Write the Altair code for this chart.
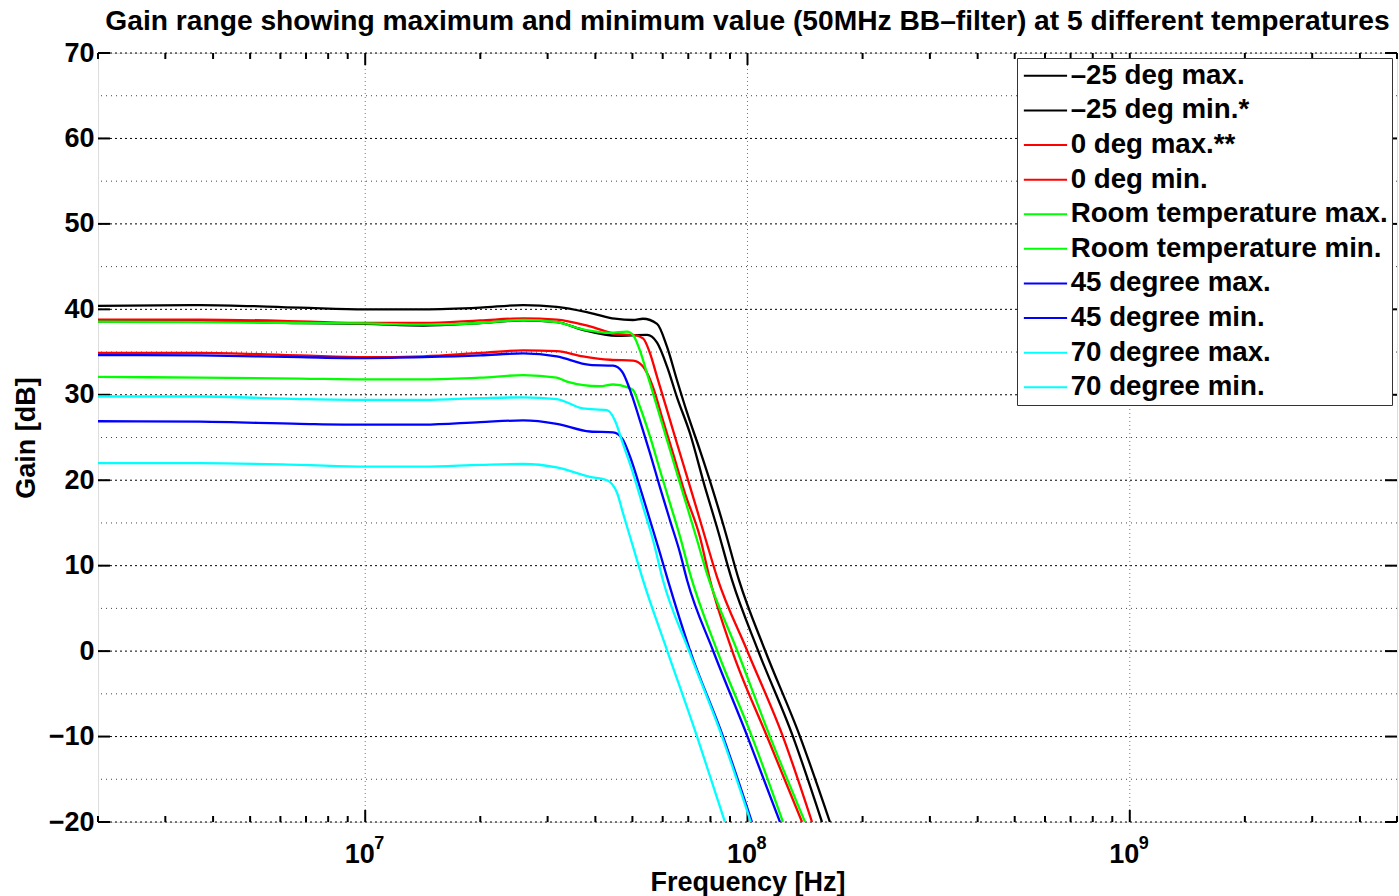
import altair as alt
import pandas as pd

TITLE = "Gain range showing maximum and minimum value (50MHz BB\u2013filter) at 5 different temperatures"
X_TITLE = "Frequency [Hz]"
Y_TITLE = "Gain [dB]"

series_names = ["\u201325 deg max.", "\u201325 deg min.*", "0 deg max.**", "0 deg min.",
                "Room temperature max.", "Room temperature min.",
                "45 degree max.", "45 degree min.", "70 degree max.", "70 degree min."]
series_colors = ["#000000", "#000000", "#ff0000", "#ff0000", "#00ff00", "#00ff00",
                 "#0000ff", "#0000ff", "#00ffff", "#00ffff"]

# frequencies in MHz, gains in dB
m25_max_f = [2, 3.7, 6.75, 10, 14.2, 20, 25.9, 31.7, 38.7, 45.0, 50.2, 53.3, 58.0, 61.6, 65.4, 69.5, 75.1, 80.7, 86.8, 95.0, 111.1, 137.2, 164.3]
m25_max_g = [40.4, 40.5, 40.2, 40.0, 40.0, 40.2, 40.5, 40.3, 39.6, 38.9, 38.75, 38.9, 38.3, 35.6, 31.7, 27.9, 23.5, 19.2, 14.5, 8.3, 0.1, -10.0, -20.0]

m25_min_f = [2, 3.7, 6.75, 10, 14.2, 20, 25.9, 31.7, 37.1, 45.6, 54.6, 58.0, 61.6, 65.4, 70.7, 77.4, 83.2, 91.1, 106.5, 131.5, 156.6]
m25_min_g = [38.6, 38.6, 38.4, 38.3, 38.1, 38.4, 38.7, 38.5, 37.6, 36.9, 37.0, 36.1, 33.3, 29.7, 25.5, 19.2, 14.5, 8.3, 0.1, -10.0, -20.0]

z_max_f = [2, 3.7, 6.75, 10, 14.2, 20, 25.9, 31.7, 38.7, 45.6, 50.2, 53.3, 55.6, 58.0, 61.6, 65.4, 69.5, 73.8, 78.3, 83.2, 99.7, 123.8, 147.5]
z_max_g = [38.8, 38.8, 38.6, 38.4, 38.4, 38.7, 38.95, 38.8, 38.0, 37.1, 37.0, 36.6, 34.85, 32.1, 28.2, 24.3, 20.4, 16.5, 12.6, 8.7, 0.1, -10.0, -20.0]

z_min_f = [2, 3.7, 6.75, 10, 14.2, 20, 25.9, 31.7, 37.1, 43.7, 50.2, 53.3, 56.6, 60.1, 63.8, 68.6, 75.1, 79.8, 91.1, 112.5, 138.9]
z_min_g = [34.9, 34.9, 34.6, 34.4, 34.5, 34.9, 35.2, 35.1, 34.5, 34.1, 34.0, 33.3, 30.9, 27.0, 23.2, 18.5, 13.35, 8.3, 0.1, -10.0, -20.0]

room_max_f = [2, 3.7, 6.75, 10, 14.2, 20, 25.9, 31.7, 37.1, 43.7, 48.4, 50.2, 52.3, 54.6, 58.0, 61.6, 65.4, 69.5, 73.8, 78.3, 93.9, 114.5, 141.4]
room_max_g = [38.55, 38.5, 38.4, 38.35, 38.2, 38.4, 38.75, 38.5, 37.65, 37.25, 37.4, 37.0, 35.2, 32.5, 28.6, 24.7, 20.8, 16.9, 13.0, 9.1, 0.1, -10.0, -20.0]

room_min_f = [2, 3.7, 6.75, 10, 14.2, 20, 25.9, 31.7, 33.7, 41.1, 44.5, 48.4, 50.2, 52.3, 55.6, 59.0, 62.7, 66.6, 70.7, 83.2, 102.7, 123.8]
room_min_g = [32.1, 32.0, 31.9, 31.8, 31.8, 32.0, 32.3, 32.0, 31.55, 31.0, 31.2, 30.9, 30.55, 28.6, 25.1, 21.2, 17.3, 13.4, 9.1, 0.1, -10.0, -20.0]

d45_max_f = [2, 3.7, 6.75, 10, 14.2, 20, 25.9, 31.7, 38.7, 44.5, 47.0, 49.3, 52.3, 55.6, 59.0, 62.7, 66.6, 69.5, 81.2, 100.0, 121.6]
d45_max_g = [34.65, 34.6, 34.4, 34.3, 34.4, 34.6, 34.85, 34.5, 33.5, 33.4, 32.7, 30.55, 27.0, 23.15, 19.2, 15.3, 11.5, 8.3, 0.1, -10.0, -20.0]

d45_min_f = [2, 3.7, 6.75, 10, 14.2, 20, 25.9, 31.7, 38.7, 44.5, 47.0, 49.3, 52.3, 55.6, 59.0, 61.9, 70.7, 86.3, 102.7]
d45_min_g = [26.9, 26.85, 26.6, 26.5, 26.5, 26.8, 27.0, 26.6, 25.7, 25.6, 24.9, 22.75, 19.2, 15.3, 11.5, 8.3, 0.1, -10.0, -20.0]

d70_max_f = [2, 3.7, 6.75, 10, 14.2, 20, 25.9, 31.7, 37.1, 42.9, 45.0, 47.2, 50.2, 53.3, 56.6, 60.1, 70.2, 85.8, 102.0]
d70_max_g = [29.8, 29.8, 29.5, 29.4, 29.4, 29.6, 29.7, 29.5, 28.4, 28.2, 27.0, 24.3, 20.8, 16.9, 13.0, 8.3, 0.1, -10.0, -20.0]

d70_min_f = [2, 3.7, 6.75, 10, 14.2, 20, 25.9, 31.7, 38.7, 42.9, 45.6, 47.2, 50.2, 53.3, 61.6, 73.8, 87.3]
d70_min_g = [22.0, 22.0, 21.8, 21.6, 21.6, 21.8, 21.9, 21.5, 20.4, 20.0, 18.5, 16.2, 12.2, 8.3, 0.1, -10.0, -20.0]

series_data = [(m25_max_f, m25_max_g), (m25_min_f, m25_min_g), (z_max_f, z_max_g), (z_min_f, z_min_g),
               (room_max_f, room_max_g), (room_min_f, room_min_g), (d45_max_f, d45_max_g),
               (d45_min_f, d45_min_g), (d70_max_f, d70_max_g), (d70_min_f, d70_min_g)]

x_domain = [2e6, 5e9]
y_domain = [-20, 70]
x_major_ticks = [1e7, 1e8, 1e9]
x_tick_base = "10"
x_tick_exponents = ["7", "8", "9"]
x_minor_ticks = [k * 10 ** d for d in range(6, 10) for k in range(2, 10) if 2e6 <= k * 10 ** d <= 5e9]
y_major_ticks = list(range(-20, 71, 10))
y_minor_grid = list(range(-15, 70, 10))

rows = []
for name, (fs, gs) in zip(series_names, series_data):
    for i, (f, g) in enumerate(zip(fs, gs)):
        rows.append({"series": name, "freq": f * 1e6, "gain": g, "idx": i})
df = pd.DataFrame(rows)

W, H = 1299, 769
FONT = "Liberation Sans"

xscale = alt.Scale(type="log", domain=x_domain, nice=False)
yscale = alt.Scale(domain=y_domain, nice=False, zero=False)

x_axis = alt.Axis(values=x_major_ticks, labelExpr=f"'{x_tick_base}'", grid=False,
                  ticks=False, domain=False, title=X_TITLE, labelFont=FONT, labelFontSize=27,
                  labelFontWeight="bold", labelColor="black", labelPadding=19, labelOffset=-6,
                  titleFont=FONT, titleFontSize=27, titleFontWeight="bold", titleColor="black",
                  titleBaseline="alphabetic", titleY=68)
y_axis = alt.Axis(values=y_major_ticks, grid=False, ticks=False, domain=False, title=Y_TITLE,
                  labelFont=FONT, labelFontSize=27, labelFontWeight="bold", labelColor="black",
                  labelPadding=4, titleFont=FONT, titleFontSize=27, titleFontWeight="bold",
                  titleColor="black", titlePadding=8)

lines = alt.Chart(df).mark_line(clip=True, strokeWidth=2.3, interpolate="monotone").encode(
    x=alt.X("freq:Q", scale=xscale, axis=x_axis),
    y=alt.Y("gain:Q", scale=yscale, axis=y_axis),
    color=alt.Color("series:N", scale=alt.Scale(domain=series_names, range=series_colors),
                    legend=alt.Legend(title=None, orient="top-right", offset=5,
                                      symbolType="M-1,0H2.93", symbolSize=484,
                                      symbolStrokeWidth=2, labelFont=FONT,
                                      labelFontSize=27.7, labelFontWeight="bold", labelColor="black",
                                      labelLimit=500, strokeColor="#333333", fillColor="white",
                                      padding=4, rowPadding=5.6, labelOffset=22)),
    order="idx:Q",
)

ymaj_df = pd.DataFrame({"gain": y_major_ticks})
ymin_df = pd.DataFrame({"gain": y_minor_grid})
xmaj_df = pd.DataFrame({"freq": x_major_ticks, "exp": x_tick_exponents})
xmin_df = pd.DataFrame({"freq": x_minor_ticks})

grid_ymaj = alt.Chart(ymaj_df).mark_rule(color="black", strokeWidth=1, strokeDash=[2, 3]).encode(
    y=alt.Y("gain:Q", scale=yscale, axis=y_axis))
grid_ymin = alt.Chart(ymin_df).mark_rule(color="#444444", strokeWidth=1, strokeDash=[1, 4]).encode(
    y=alt.Y("gain:Q", scale=yscale, axis=y_axis))
grid_x = alt.Chart(xmaj_df).mark_rule(color="#777777", strokeWidth=1, strokeDash=[1, 3]).encode(
    x=alt.X("freq:Q", scale=xscale, axis=x_axis))

exponents = alt.Chart(xmaj_df).mark_text(
    font=FONT, fontSize=18, fontWeight="bold", color="black", align="left",
    baseline="alphabetic", dx=9).encode(
    x=alt.X("freq:Q", scale=xscale, axis=x_axis), y=alt.value(H + 27), text="exp:N")

def xticks(data, length):
    b = alt.Chart(data).mark_rule(color="black", strokeWidth=2).encode(
        x=alt.X("freq:Q", scale=xscale, axis=x_axis), y=alt.value(H), y2=alt.value(H - length))
    t = alt.Chart(data).mark_rule(color="black", strokeWidth=2).encode(
        x=alt.X("freq:Q", scale=xscale, axis=x_axis), y=alt.value(0), y2=alt.value(length))
    return [b, t]

yt_l = alt.Chart(ymaj_df).mark_rule(color="black", strokeWidth=2).encode(
    y=alt.Y("gain:Q", scale=yscale, axis=y_axis), x=alt.value(0), x2=alt.value(12))
yt_r = alt.Chart(ymaj_df).mark_rule(color="black", strokeWidth=2).encode(
    y=alt.Y("gain:Q", scale=yscale, axis=y_axis), x=alt.value(W), x2=alt.value(W - 12))

chart = alt.layer(
    grid_ymin, grid_ymaj, grid_x, *xticks(xmaj_df[["freq"]], 12), *xticks(xmin_df, 6),
    yt_l, yt_r, exponents, lines
).properties(
    width=W, height=H,
    title=alt.TitleParams(TITLE, font=FONT, fontSize=28.2, fontWeight="bold", color="black",
                          anchor="middle", offset=3),
    autosize=alt.AutoSizeParams(type="none"),
    padding={"left": 98, "top": 53, "right": 2, "bottom": 74},
).configure_view(stroke="black", strokeWidth=2).configure(background="white")

chart.save("out.html", embed_options={"renderer": "svg", "actions": False})
